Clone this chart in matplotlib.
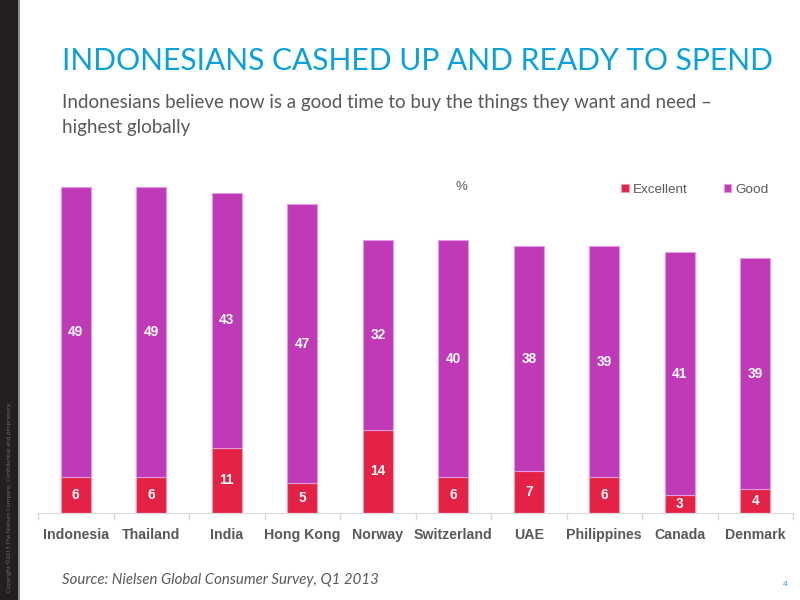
import matplotlib
matplotlib.use("Agg")
import matplotlib.pyplot as plt
from matplotlib.patches import Rectangle
import numpy as np

# data
countries = ["Indonesia", "Thailand", "India", "Hong Kong", "Norway",
             "Switzerland", "UAE", "Philippines", "Canada", "Denmark"]
excellent = [6, 6, 11, 5, 14, 6, 7, 6, 3, 4]
good = [49, 49, 43, 47, 32, 40, 38, 39, 41, 39]

red = "#E32245"
purple = "#C03AB8"
grey = "#595959"
blue = "#0AA0DC"

fig = plt.figure(figsize=(8, 6), dpi=100)
fig.patch.set_facecolor("white")

# dark strip on the left with copyright note
fig.patches.append(Rectangle((0, 0), 18 / 800, 1, transform=fig.transFigure,
                             facecolor="#231F20", edgecolor="none", zorder=0))
fig.patches.append(Rectangle((18 / 800, 0), 1.5 / 800, 1, transform=fig.transFigure,
                             facecolor="#8C8C8C", edgecolor="none", zorder=0))
fig.text(9.5 / 800, 1 - 497 / 600,
         "Copyright \u00a92013 The Nielsen Company. Confidential and proprietary.",
         rotation=90, ha="center", va="center", fontsize=4.2, color="#707070",
         family="Open Sans")

# title and subtitle
title = fig.text(62 / 800, 1 - 61 / 600, "INDONESIANS CASHED UP AND READY TO SPEND",
                 ha="left", va="center", fontsize=22, color=blue, family="Lato")
# shrink the title so it spans the same width as in the slide
r = fig.canvas.get_renderer()
w = title.get_window_extent(r).width
title.set_fontsize(22 * 708 / w)

fig.text(62 / 800, 1 - 94 / 600,
         "Indonesians believe now is a good time to buy the things they want and need \u2013\nhighest globally",
         ha="left", va="top", fontsize=13.5, color=grey, family="Lato", linespacing=1.6)

# chart
ax = fig.add_axes([38 / 800, 87 / 600, 755 / 800, 356 / 600])
x = np.arange(len(countries))
b1 = ax.bar(x, excellent, width=0.4, color=red, edgecolor="#F29AAE",
            linewidth=0.8, label="Excellent")
b2 = ax.bar(x, good, width=0.4, bottom=excellent, color=purple,
            edgecolor="#E39BDE", linewidth=0.8, label="Good")
ax.bar_label(b1, label_type="center", color="white", fontsize=9.8,
             fontweight="bold", family="Liberation Sans")
ax.bar_label(b2, label_type="center", color="white", fontsize=9.8,
             fontweight="bold", family="Liberation Sans")

ax.set_xlim(-0.5, 9.5)
ax.set_ylim(0, 60)
ax.set_yticks([])
for s in ["left", "top", "right"]:
    ax.spines[s].set_visible(False)
ax.spines["bottom"].set_color("#D9D9D9")
ax.set_xticks(x)
ax.set_xticklabels(countries, fontsize=10.2, fontweight="bold", color=grey,
                   family="Liberation Sans")
ax.tick_params(axis="x", which="major", length=0, pad=11)
ax.set_xticks(np.arange(-0.5, 10, 1), minor=True)
ax.tick_params(axis="x", which="minor", length=5, color="#D9D9D9", width=1)

ax.text(461 / 800, 1 - 187 / 600, "%", transform=fig.transFigure, ha="center",
        va="center", fontsize=9.5, color=grey, family="Liberation Sans")
ax.legend(loc="center left", bbox_to_anchor=(609 / 800, 1 - 190 / 600),
          bbox_transform=fig.transFigure, ncol=2, frameon=False,
          handlelength=0.55, handleheight=0.55, handletextpad=0.3,
          columnspacing=2.7, prop={"family": "Liberation Sans", "size": 9.7},
          labelcolor=grey)

# footer
fig.text(62 / 800, 1 - 580 / 600, "Source: Nielsen Global Consumer Survey, Q1 2013",
         ha="left", va="center", fontsize=10.8, style="italic", color=grey,
         family="Lato")
fig.text(785 / 800, 1 - 585 / 600, "4", ha="center", va="center", fontsize=6,
         color=blue, family="Liberation Sans")

fig.savefig("out.png", dpi=100)
